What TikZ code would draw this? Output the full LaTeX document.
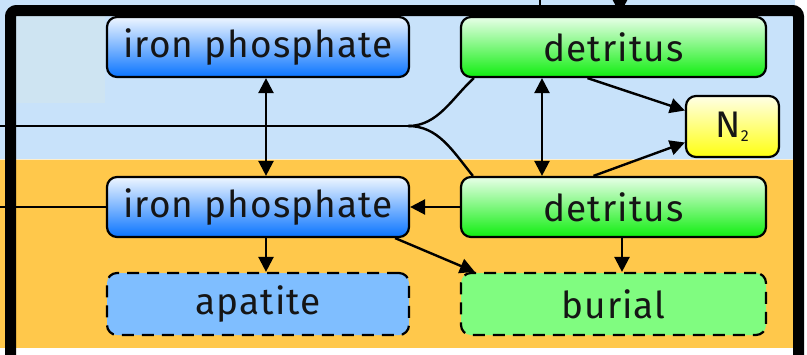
\documentclass[tikz,border=0pt]{standalone}
\usepackage{fontspec}
\setmainfont{Fira Sans}[LetterSpace=3]
\usetikzlibrary{arrows.meta}
\definecolor{skyb}{HTML}{C8E2FA}
\definecolor{skyc}{HTML}{CEE4F2}
\definecolor{sed}{HTML}{FFC84B}
\definecolor{ipTop}{HTML}{EEF6FF}
\definecolor{ipMid}{HTML}{6AADFF}
\definecolor{ipBot}{HTML}{0A74FF}
\definecolor{dtTop}{HTML}{E8FFE8}
\definecolor{dtMid}{HTML}{78F878}
\definecolor{dtBot}{HTML}{10EE10}
\definecolor{nTop}{HTML}{FFFFE6}
\definecolor{nBot}{HTML}{FFFF10}
\definecolor{apc}{HTML}{7FBEFF}
\definecolor{buc}{HTML}{80FC80}
\definecolor{txt}{HTML}{151515}
\tikzset{
  box/.style={draw=black, line width=2.2pt, rounded corners=10pt, inner sep=0pt,
    text=txt, font=\fontsize{37}{40}\selectfont},
  ipbox/.style={box, top color=ipTop, middle color=ipMid, bottom color=ipBot,
    minimum width=302pt, minimum height=60pt},
  dtbox/.style={box, top color=dtTop, middle color=dtMid, bottom color=dtBot,
    minimum width=305pt, minimum height=60pt},
  nbox/.style={box, top color=nTop, bottom color=nBot,
    minimum width=93pt, minimum height=61pt},
  sinkbox/.style={box, dashed, dash pattern=on 12pt off 8pt,
    minimum width=302pt, minimum height=62pt},
  conn/.style={draw=black, line width=2.4pt},
  arr/.style={conn, -{Triangle[length=15pt,width=15pt]}},
  dbl/.style={conn, {Triangle[length=15pt,width=15pt]}-{Triangle[length=15pt,width=15pt]}}
}
\begin{document}
\begin{tikzpicture}[x=1pt,y=-1pt]
\useasboundingbox (0,0) rectangle (807,354);
% backgrounds
\fill[skyb] (0,0) rectangle (795,159);
\fill[sed] (0,159) rectangle (795,348);
\fill[skyc] (16,16) rectangle (105,103);
\draw[white, opacity=0.7, line width=1pt] (0,159) -- (795,159);
% outside connectors at top
\coordinate (topA) at (540,0);
\coordinate (topB) at (620,-12);
\draw[black, line width=1.5pt] (topA) -- (540,12);
\draw[arr] (topB) -- (620,14);
% nodes
\node[ipbox] (ip1) at (258,47) {iron phosphate};
\node[dtbox] (dt1) at (613.5,47) {detritus};
\node[nbox] (n2) at (732.5,126.5) {N\textsubscript{\fontsize{16}{16}\selectfont 2}};
\node[ipbox] (ip2) at (258,207) {iron phosphate};
\node[dtbox] (dt2) at (613.5,207) {detritus};
\node[sinkbox, fill=apc] (ap) at (258,304) {apatite};
\node[sinkbox, fill=buc, minimum width=305pt] (bu) at (613.5,304) {burial};
% connectors
\coordinate (L1) at (0,126);
\coordinate (J) at (408,126);
\coordinate (L2) at (0,207);
\draw[conn] (L1) -- (J);
\draw[conn] (J) .. controls (438,126) and (452,98) .. ([xshift=14pt]dt1.south west);
\draw[conn] (J) .. controls (438,126) and (452,150) .. ([xshift=13pt]dt2.north west);
\draw[conn] (L2) -- (ip2.west);
\draw[dbl] ([xshift=8pt]ip1.south) -- ([xshift=8pt]ip2.north);
\draw[dbl] ([xshift=-71.5pt]dt1.south) -- ([xshift=-71.5pt]dt2.north);
\draw[arr] ([xshift=-26pt]dt1.south) -- ([yshift=16pt]n2.west);
\draw[arr] ([xshift=-20pt]dt2.north) -- ([yshift=-16pt]n2.west);
\draw[arr] (dt2.west) -- (ip2.east);
\draw[arr] ([xshift=8pt]ip2.south) -- ([xshift=8pt]ap.north);
\draw[arr] ([xshift=-15pt]ip2.south east) -- ([xshift=15pt]bu.north west);
\draw[arr] ([xshift=8.5pt]dt2.south) -- ([xshift=8.5pt]bu.north);
% frame
\draw[black, line width=11pt, rounded corners=6pt] (10.5,360) -- (10.5,10.5) -- (798.5,10.5) -- (798.5,360);
\end{tikzpicture}
\end{document}
